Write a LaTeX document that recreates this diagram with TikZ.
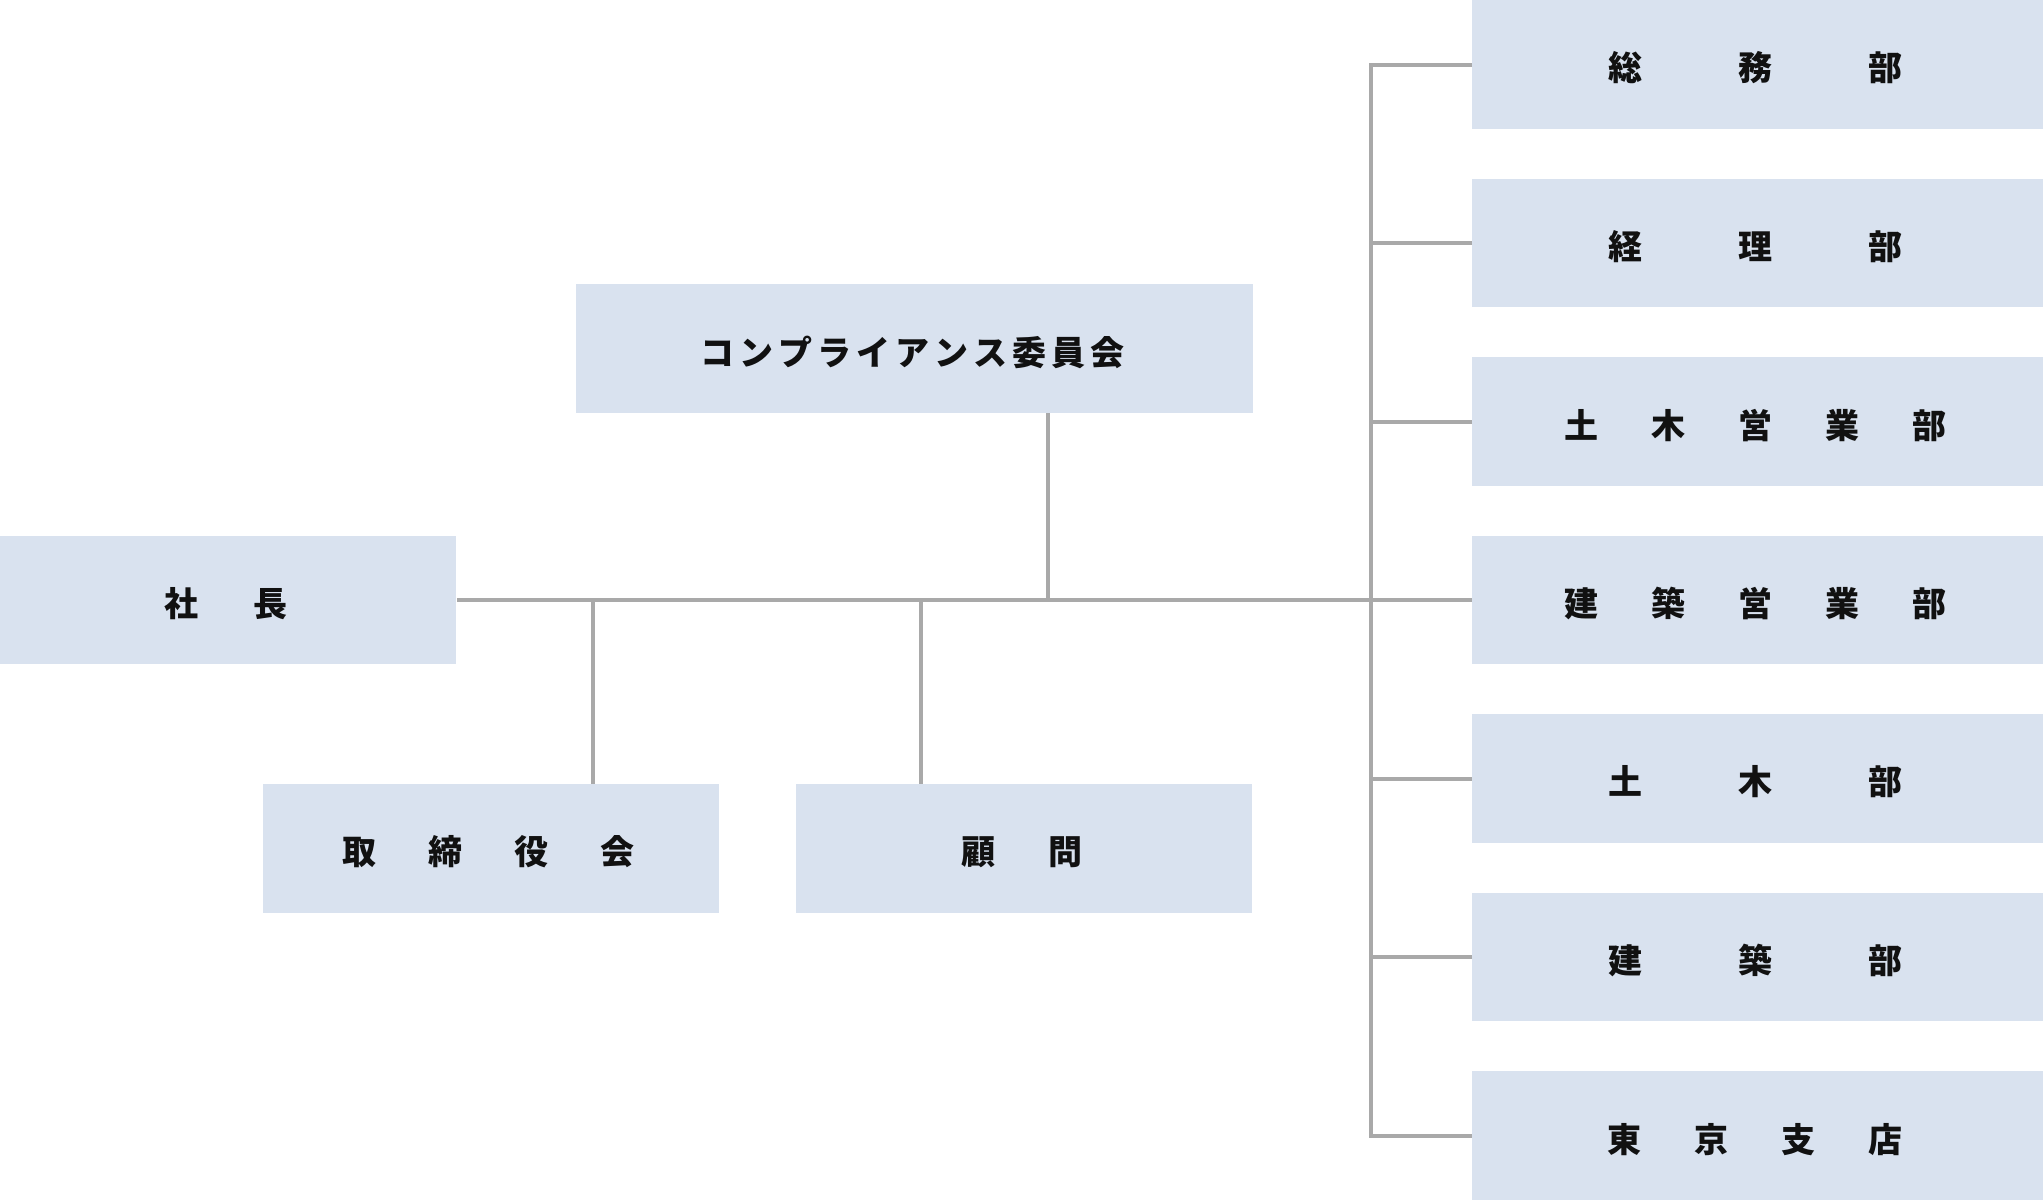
\documentclass[tikz,border=0pt]{standalone}
\usepackage{fontspec}
\newfontfamily\jp{Noto Sans CJK JP}
\definecolor{boxfill}{HTML}{D9E2EF}
\definecolor{linegray}{HTML}{A9A9A9}
\definecolor{textblack}{HTML}{111111}
\newlength\chpitch
\def\spreadloop#1{\ifx#1\relax\else\makebox[\chpitch]{#1}\expandafter\spreadloop\fi}
\newcommand\spreadtext[2]{\setlength\chpitch{#1}\raisebox{-1.7pt}[\height][\depth]{\hspace*{-1.25pt}\spreadloop#2\relax\hspace*{1.25pt}}}
\tikzset{
  orgbox/.style={fill=boxfill, draw=none, inner sep=0pt, anchor=north west,
    minimum height=64.25pt, text=textblack,
    font=\jp\bfseries\fontsize{17pt}{20pt}\selectfont},
  deptbox/.style={orgbox, minimum width=285.5pt},
  midbox/.style={orgbox, minimum width=228pt},
  conn/.style={draw=linegray, line width=2pt, line join=miter}
}
\begin{document}
\begin{tikzpicture}[x=0.5pt, y=-0.5pt]
\useasboundingbox (0,0) rectangle (2043,1200);
% left and middle boxes
\node[midbox] (shacho) at (0,535.5) {\spreadtext{44.5pt}{社長}};
\node[orgbox, minimum width=338.5pt] (comp) at (576,284) {\spreadtext{19.5pt}{コンプライアンス委員会}};
\node[midbox] (tori) at (263,784) {\spreadtext{43pt}{取締役会}};
\node[midbox] (komon) at (796,784) {\spreadtext{43.5pt}{顧問}};
% department boxes
\node[deptbox] (d1) at (1472,0) {\spreadtext{65pt}{総務部}};
\node[deptbox] (d2) at (1472,178.5) {\spreadtext{65pt}{経理部}};
\node[deptbox] (d3) at (1472,357) {\spreadtext{43.5pt}{土木営業部}};
\node[deptbox] (d4) at (1472,535.5) {\spreadtext{43.5pt}{建築営業部}};
\node[deptbox] (d5) at (1472,714) {\spreadtext{65pt}{土木部}};
\node[deptbox] (d6) at (1472,892.5) {\spreadtext{65pt}{建築部}};
\node[deptbox, minimum height=64.5pt] (d7) at (1472,1071) {\spreadtext{43.5pt}{東京支店}};
% connectors
\coordinate (trunk) at (1371,600);
\coordinate (jcomp) at (1047.5,600);
\coordinate (jtori) at (593,600);
\coordinate (jkomon) at (921,600);
\draw[conn] (shacho.east) -- (d4.west);
\draw[conn] (d1.west) -- (d1.west -| trunk) -- (d7.west -| trunk) -- (d7.west);
\draw[conn] (d2.west) -- (d2.west -| trunk);
\draw[conn] (d3.west) -- (d3.west -| trunk);
\draw[conn] (d5.west) -- (d5.west -| trunk);
\draw[conn] (d6.west) -- (d6.west -| trunk);
\draw[conn] (jcomp) -- (jcomp |- comp.south);
\draw[conn] (jtori) -- (jtori |- tori.north);
\draw[conn] (jkomon) -- (jkomon |- komon.north);
\end{tikzpicture}
\end{document}
